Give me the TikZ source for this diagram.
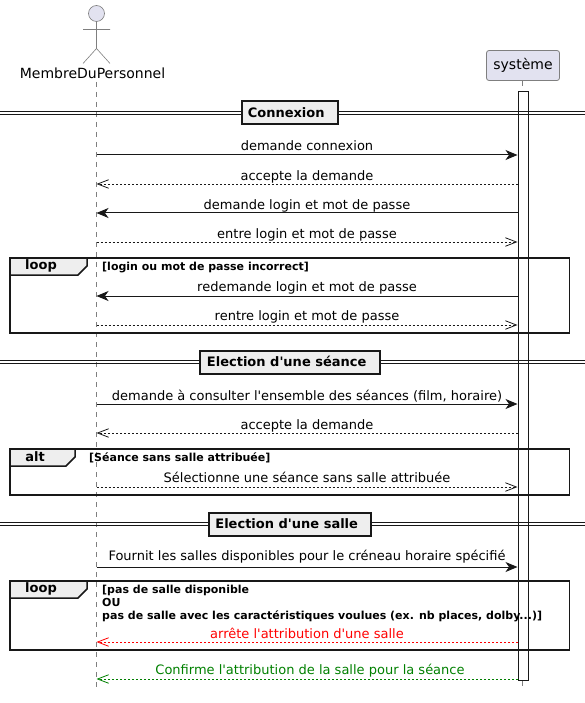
\documentclass[tikz,border=0pt]{standalone}
\usepackage{fontspec}
\setmainfont[Ligatures=TeXOff]{DejaVu Sans}
\usetikzlibrary{arrows.meta}
\definecolor{partfill}{HTML}{E2E2F0}
\definecolor{partline}{HTML}{7F7F7F}
\definecolor{framefill}{HTML}{EEEEEE}
\definecolor{lifeline}{HTML}{7F7F7F}
\definecolor{inkline}{HTML}{181818}
\definecolor{okgreen}{HTML}{008000}
\tikzset{
  x=1pt,y=-1pt,
  txt/.style={font=\fontsize{13}{15}\selectfont,inner sep=0pt,text=black},
  lifel/.style={draw=lifeline,line width=0.6pt,dash pattern=on 5pt off 5pt},
  sync/.style={draw=inkline,line width=1pt,-{Stealth[length=12pt,width=10pt,inset=3.5pt]}},
  reply/.style={draw=inkline,line width=0.8pt,dash pattern=on 2pt off 2pt,-{Straight Barb[length=11pt,width=8.5pt,line width=0.8pt]}},
  framebox/.style={draw=inkline,line width=1.5pt},
  tabtxt/.style={font=\fontsize{13}{15}\selectfont\bfseries,inner sep=0pt},
  condtxt/.style={font=\fontsize{11}{13}\selectfont\bfseries,inner sep=0pt,align=left,anchor=north west},
  divbox/.style={draw=inkline,line width=2pt,fill=framefill,font=\fontsize{13}{16}\selectfont\bfseries,minimum height=23pt,inner sep=0pt},
  divline/.style={draw=inkline,line width=1.2pt},
  actbox/.style={draw=inkline,line width=1pt,fill=white},
  msg/.style={txt,anchor=base},
}
\newcommand{\dividerline}[4]{% name, y, width, cx
  \draw[divline] (0,#2-1.4) -- (585,#2-1.4);
  \draw[divline] (0,#2+1.4) -- (585,#2+1.4);
  \node[divbox,minimum width=#3] (#1) at (#4,#2) {\vphantom{Ég}\csname lbl#1\endcsname\kern6.6pt};
}
\newcommand{\lblDa}{Connexion}
\newcommand{\lblDb}{Election d'une séance}
\newcommand{\lblDc}{Election d'une salle}
\newcommand{\tabshape}[5]{% x1 y1 x2(tab right) name label
  \draw[framebox,fill=framefill] (#1,#2) -- (#3,#2) -- (#3,#2+8) -- (#3-9,#2+17) -- (#1,#2+17) -- cycle;
  \node[tabtxt] (#4) at ({(#1+#3)/2-7.5},#2+8) {#5};
}
\begin{document}
\begin{tikzpicture}
\useasboundingbox (0,0) rectangle (585,703);
% participants
\coordinate (actorhead) at (96.5,13.5);
\draw[draw=partline,line width=0.6pt,fill=partfill] (96.5,13.5) circle (8pt);
\draw[draw=partline,line width=0.6pt] (96.5,21.5) -- (96.5,48.5) (83,29.5) -- (110,29.5) (83,63.5) -- (96.5,48.5) -- (110,63.5);
\node[txt,font=\fontsize{14}{16}\selectfont] (actor) at (92.5,73) {MembreDuPersonnel};
\node[draw=partline,line width=0.8pt,fill=partfill,rounded corners=2.5pt,minimum width=73pt,minimum height=30pt,inner sep=0pt,font=\fontsize{14}{16}\selectfont] (sys) at (523,65.5) {système};
\coordinate (aend) at (96.5,690);
\coordinate (send) at (522.5,690);
\coordinate (atop) at (96.5,82);
\draw[lifel] (atop) -- (aend);
\draw[lifel] (sys.south -| send) -- (send);
% activation
\node[actbox,minimum width=10pt,minimum height=588pt,inner sep=0pt,anchor=north] (act) at (523.5,91.5) {};
% dividers
\dividerline{Da}{113}{96}{289.5}
\dividerline{Db}{362}{180}{290}
\dividerline{Dc}{524}{162}{290}
% message endpoints
\foreach \n/\y in {1/155,2/184,3/213,4/242,5/296,6/325,7/404,8/433,9/487,10/567,11/642,12/679}{
  \coordinate (L\n) at (96.5,\y);
  \coordinate (R\n) at (517.5,\y);
}
% frames
\draw[framebox] (10,258) rectangle (569.5,333);
\tabshape{10}{258}{87}{Fa}{loop}
\node[condtxt] (Ca) at (102,261.7) {[login ou mot de passe incorrect]};
\draw[framebox] (10,449) rectangle (569.5,495);
\tabshape{10}{449}{75}{Fb}{alt}
\node[condtxt] (Cb) at (89,452.7) {[Séance sans salle attribuée]};
\draw[framebox] (10,581) rectangle (569.5,650);
\tabshape{10}{581}{87}{Fc}{loop}
\node[condtxt] (Cc) at (102,584.7) {[pas de salle disponible\\OU\\pas de salle avec les caractéristiques voulues (ex. nb places, dolby...)]};
% messages
\draw[sync] (L1) -- (R1);
\node[msg] at (307,151) {demande connexion};
\draw[reply] (R2) -- (L2);
\node[msg] at (307,180.6) {accepte la demande};
\draw[sync] (R3) -- (L3);
\node[msg] at (307,209.6) {demande login et mot de passe};
\draw[reply] (L4) -- (R4);
\node[msg] at (307,238) {entre login et mot de passe};
\draw[sync] (R5) -- (L5);
\node[msg] at (307,291) {redemande login et mot de passe};
\draw[reply] (L6) -- (R6);
\node[msg] at (307,320) {rentre login et mot de passe};
\draw[sync] (L7) -- (R7);
\node[msg] at (307,400.6) {demande à consulter l'ensemble des séances (film, horaire)};
\draw[reply] (R8) -- (L8);
\node[msg] at (307,429.6) {accepte la demande};
\draw[reply] (L9) -- (R9);
\node[msg] at (307,482) {Sélectionne une séance sans salle attribuée};
\draw[sync] (L10) -- (R10);
\node[msg] at (307,560.6) {Fournit les salles disponibles pour le créneau horaire spécifié};
\draw[reply,draw=red] (R11) -- (L11);
\node[msg,text=red] at (307,638) {arrête l'attribution d'une salle};
\draw[reply,draw=okgreen] (R12) -- (L12);
\node[msg,text=okgreen] at (310,674) {Confirme l'attribution de la salle pour la séance};
\end{tikzpicture}
\end{document}
